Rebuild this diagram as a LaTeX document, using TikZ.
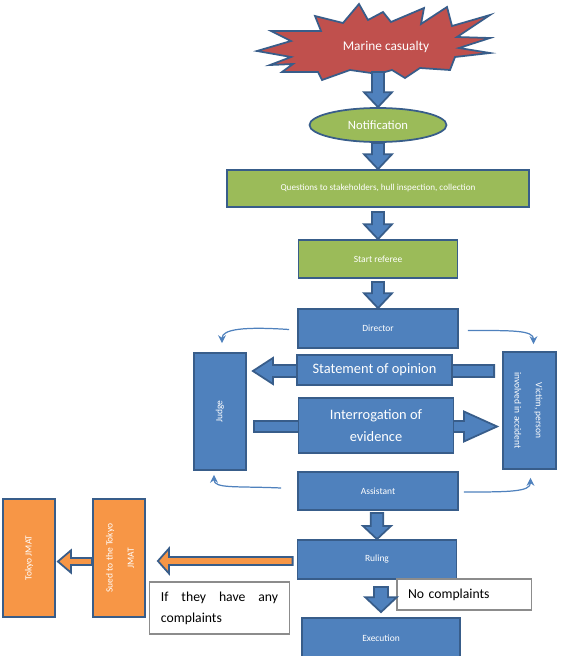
\documentclass[tikz,border=0pt]{standalone}
\usepackage{fontspec}
\setmainfont{Carlito}
\usetikzlibrary{arrows.meta,positioning,shapes.geometric,calc,backgrounds}
\definecolor{boxblue}{RGB}{79,129,189}
\definecolor{edgeblue}{RGB}{56,93,138}
\definecolor{boxgreen}{RGB}{155,187,89}
\definecolor{starred}{RGB}{192,80,77}
\definecolor{boxorange}{RGB}{247,150,70}
\def\px{0.02cm}
% [style]{from}{to}{half shaft}{half head}{head length}
\newcommand{\blockarrow}[6][blkarrow]{%
  \coordinate (ba-base) at ($(#3)!#6!(#2)$);
  \draw[#1] ($(#2)!#4!90:(#3)$) -- ($(ba-base)!#4!90:(#3)$) -- ($(ba-base)!#5!90:(#3)$)
    -- (#3) -- ($(ba-base)!#5!-90:(#3)$) -- ($(ba-base)!#4!-90:(#3)$) -- ($(#2)!#4!-90:(#3)$) -- cycle;
}
\begin{document}
\begin{tikzpicture}[x=\px, y=-\px,
    sz/.style 2 args={minimum width={#1*\px}, minimum height={#2*\px}},
    bluebox/.style={rectangle, draw=edgeblue, fill=boxblue, line width=1pt, text=white,
                    font=\fontsize{5.4}{12}\selectfont, inner sep=0pt, align=center},
    greenbox/.style={bluebox, fill=boxgreen},
    orangebox/.style={bluebox, fill=boxorange},
    notebox/.style={rectangle, draw=black!45, fill=white, line width=0.6pt, text=black,
                    font=\fontsize{7.8}{12}\selectfont, inner xsep=6.3pt, inner ysep=0pt},
    blkarrow/.style={draw=edgeblue, fill=boxblue, line width=1pt, line join=miter},
    orgarrow/.style={blkarrow, fill=boxorange},
    curvarrow/.style={draw=boxblue, line width=0.7pt, -{Stealth[length=4.5pt,width=4.5pt]}}
  ]
    \useasboundingbox (0,0) rectangle (562,656);

    % Star
    \draw[fill=starred, draw=edgeblue, line width=1pt, line join=miter]
      (257,51) -- (291,41) -- (271,31) -- (321,31) -- (315,16) -- (343,23) -- (359,4)
      -- (368,20) -- (383,12) -- (391,22) -- (424,8) -- (421,24) -- (447,7) -- (452,26)
      -- (490,15) -- (457,37) -- (490,38) -- (459,48) -- (490,53) -- (455,57) -- (450,70)
      -- (420,68) -- (405,78) -- (392,70) -- (378,74) -- (350,70) -- (322,80) -- (318,72)
      -- (282,72) -- (293,64) -- (270,65) -- (291,57) -- cycle;
    \node[text=white, font=\fontsize{7.6}{9}\selectfont] (casualty) at (386,47) {Marine casualty};

    % Top of the chain
    \node[ellipse, draw=edgeblue, fill=boxgreen, line width=1pt, text=white, inner sep=0pt,
          font=\fontsize{7.2}{9}\selectfont, sz={137}{34}] (notif) at (378,125) {Notification};
    \node[greenbox, sz={302}{37}, font=\fontsize{5.2}{7}\selectfont] (quest) at (378,188.5)
      {Questions to stakeholders, hull inspection, collection};
    \node[greenbox, sz={159}{38}] (start) at (378,259) {Start referee};
    \node[bluebox, sz={160}{39}] (director) at (378,328.5) {Director};

    % Hearing
    \node[bluebox, sz={52}{117}] (judge) at (220,411.5) {\rotatebox{90}{Judge}};
    \node[bluebox, sz={53}{117}] (victim) at (529.5,410.5)
      {\rotatebox{-90}{\begin{tabular}{@{}c@{}}Victim, person\\involved in accident\end{tabular}}};
    \node[bluebox, sz={155}{30}, font=\fontsize{8.2}{10}\selectfont] (opinion) at (374.5,370)
      {\raisebox{-1.5pt}{Statement of opinion}};
    \node[bluebox, sz={155}{55}, font=\fontsize{8.2}{12.5}\selectfont] (evidence) at (376,425.5)
      {Interrogation of\\evidence};
    \node[bluebox, sz={160}{38}] (assistant) at (378,491) {Assistant};

    % Outcome
    \node[bluebox, sz={159}{39}] (ruling) at (377,559.5) {Ruling};
    \node[bluebox, sz={158}{40}] (execution) at (381,638) {Execution};
    \node[orangebox, sz={52}{118}] (sued) at (119,558)
      {\rotatebox{90}{\begin{tabular}{@{}c@{}}Sued to the Tokyo\\JMAT\end{tabular}}};
    \node[orangebox, sz={52}{118}] (tokyo) at (29,558) {\rotatebox{90}{Tokyo JMAT}};
    \node[notebox, sz={134}{31}, text width=63.7pt, align=left] (nocomp) at (464,594.5)
      {No complaints};
    \node[notebox, sz={139}{52}, text width=66.6pt, align=justify] (ifany) at (219.5,608)
      {\hyphenpenalty=10000 If they have any \mbox{complaints}};

    % Block arrows down the chain
    \coordinate (a1) at (378,72);
    \blockarrow{a1}{notif.north}{3.4pt}{8pt}{8.5pt}
    \coordinate (a2) at (notif.south -| quest.north);
    \blockarrow{a2}{quest.north}{3.4pt}{8pt}{8.5pt}
    \coordinate (a3) at ($(quest.south -| start.north)+(0,4)$);
    \blockarrow{a3}{start.north}{3.4pt}{8pt}{8.5pt}
    \coordinate (a4) at ($(start.south -| director.north)+(0,3)$);
    \blockarrow{a4}{director.north}{3.4pt}{8pt}{8.5pt}
    \coordinate (a5) at ($(assistant.south -| ruling.north)+(0,2)$);
    \blockarrow{a5}{ruling.north}{3.6pt}{8pt}{7.5pt}
    \coordinate (a6) at ($(ruling.south -| execution.north)+(0,7)$);
    \coordinate (a6t) at ($(execution.north)+(0,-5)$);
    \blockarrow{a6}{a6t}{4pt}{9pt}{8.5pt}

    % Arrows behind the hearing boxes
    \begin{scope}[on background layer]
      \coordinate (so-s) at ($(victim.west |- opinion.center)+(-8,1)$);
      \coordinate (so-t) at ($(judge.east |- opinion.center)+(6,1)$);
      \blockarrow{so-s}{so-t}{3.4pt}{7.4pt}{11.4pt}
      \coordinate (ie-s) at ($(judge.east |- evidence.center)+(7,1)$);
      \coordinate (ie-t) at ($(victim.west |- evidence.center)+(-5,1)$);
      \blockarrow{ie-s}{ie-t}{3.1pt}{8.5pt}{18.8pt}
    \end{scope}

    % Complaints branch
    \coordinate (oa-s) at ($(ruling.west)+(-4,1.5)$);
    \coordinate (oa-t) at ($(sued.east |- oa-s)+(12,0)$);
    \blockarrow[orgarrow]{oa-s}{oa-t}{2.3pt}{7.1pt}{6.3pt}
    \coordinate (ob-s) at ($(sued.west)+(0,3.5)$);
    \coordinate (ob-t) at ($(tokyo.east |- ob-s)+(2,0)$);
    \blockarrow[orgarrow]{ob-s}{ob-t}{2pt}{6.3pt}{7.4pt}

    % Thin curved arrows
    \draw[curvarrow] ($(director.west)+(-8,1)$) .. controls +(-45,-3) and +(0,-14) .. ($(judge.north)+(2,-9)$);
    \draw[curvarrow] ($(director.east)+(9,2)$) .. controls +(45,0) and +(0,-14) .. ($(victim.north)+(4,-7)$);
    \draw[curvarrow] ($(assistant.west)+(-16,-3)$) .. controls +(-45,-2) and +(0,14) .. ($(judge.south)+(-6,4)$);
    \draw[curvarrow] ($(assistant.east)+(5,1)$) .. controls +(45,0) and +(0,14) .. ($(victim.south)+(1,8)$);
\end{tikzpicture}
\end{document}
